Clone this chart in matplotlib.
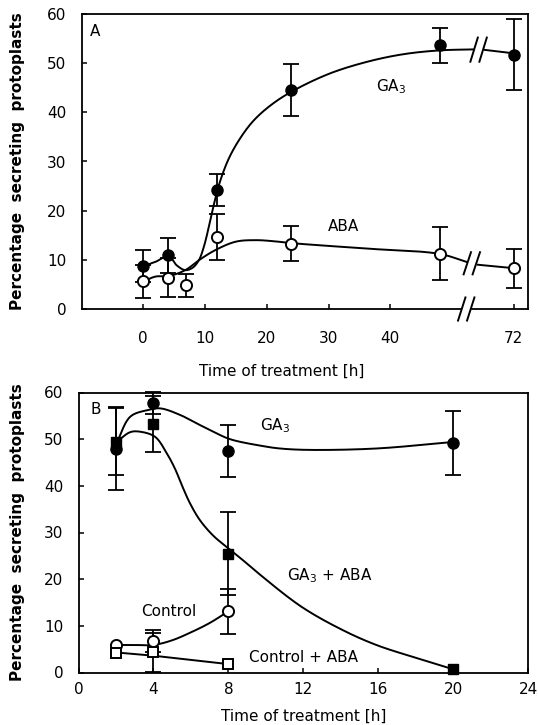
import numpy as np
import matplotlib
matplotlib.use("Agg")
import matplotlib.pyplot as plt
from matplotlib.patches import Polygon

plt.rcParams['font.family'] = ['DejaVu Sans']
plt.rcParams['mathtext.default'] = 'regular'

FS = 11

# ---------------- Panel A data ----------------
a_ga3_t = [0, 4, 12, 24, 48, 72]
a_ga3_y = [8.7, 10.9, 24.2, 44.5, 53.6, 51.7]
a_ga3_e = [3.2, 3.5, 3.3, 5.3, 3.5, 7.2]

a_aba_t = [0, 4, 7, 12, 24, 48, 72]
a_aba_y = [5.6, 6.4, 4.8, 14.7, 13.3, 11.2, 8.3]
a_aba_e = [3.4, 4.0, 2.4, 4.7, 3.6, 5.4, 4.0]

# fitted curves (knots); 72 h drawn at position 60
a_ga3_curve_x1 = [0, 2, 4.1, 5.4, 6.8, 8.0, 9.0, 9.8, 10.6, 11.5, 12.5, 14, 16, 18, 20.7, 24, 30, 36, 42, 48, 53.5]
a_ga3_curve_y1 = [8.7, 9.6, 10.8, 8.9, 7.9, 8.4, 9.9, 12.6, 16.6, 21.6, 26.2, 31.0, 35.3, 38.5, 41.5, 44.2, 47.8, 50.2, 51.8, 52.6, 52.8]
a_ga3_curve_x2 = [55.3, 60]
a_ga3_curve_y2 = [52.7, 52.0]

a_aba_curve_x1 = [0, 2, 4.1, 6.8, 9.1, 11.7, 15, 18.2, 21, 24, 36, 48, 52.3]
a_aba_curve_y1 = [5.6, 6.6, 6.7, 7.9, 10.0, 12.0, 13.7, 14.0, 13.8, 13.4, 12.3, 11.2, 9.6]
a_aba_curve_x2 = [54.2, 60]
a_aba_curve_y2 = [9.0, 8.3]

a_xticks = [0, 10, 20, 30, 40, 60]
a_xticklabels = ['0', '10', '20', '30', '40', '72']

# ---------------- Panel B data ----------------
b_ga3_t = [2, 4, 8, 20]
b_ga3_y = [48.0, 57.8, 47.4, 49.2]
b_ga3_e = [8.8, 2.3, 5.6, 6.9]

b_ga3aba_t = [2, 4, 8, 20]
b_ga3aba_y = [49.5, 53.2, 25.5, 0.7]
b_ga3aba_e = [7.2, 6.0, 8.8, 0.0]

b_ctrl_t = [2, 4, 8]
b_ctrl_y = [5.8, 6.8, 13.1]
b_ctrl_e = [0.0, 2.4, 4.8]

b_ctrlaba_t = [2, 4, 8]
b_ctrlaba_y = [4.2, 4.3, 1.8]
b_ctrlaba_e = [0.0, 4.2, 0.0]

b_ga3_curve_x = [2, 2.76, 3.65, 4.36, 5.42, 6.3, 7.2, 8.09, 9.87, 10.76, 12.3, 15.9, 20]
b_ga3_curve_y = [48.8, 54.8, 56.2, 56.6, 55.2, 53.4, 51.6, 50.0, 48.5, 48.0, 47.7, 48.0, 49.4]
b_ga3aba_curve_x = [2, 2.76, 3.29, 4.09, 4.71, 5.16, 5.51, 5.96, 6.49, 7.2, 8.0, 8.8, 9.5, 11.9, 14.1, 15.9, 17.8, 20]
b_ga3aba_curve_y = [49.3, 51.5, 51.6, 50.5, 47.0, 43.6, 40.2, 36.2, 32.6, 29.3, 26.6, 24.0, 21.6, 14.1, 9.1, 5.9, 3.4, 0.7]
b_ctrl_curve_x = [2, 3, 4, 5, 6, 7, 8]
b_ctrl_curve_y = [5.9, 5.9, 5.9, 6.9, 8.6, 10.6, 13.1]
b_ctrlaba_line_x = [2, 4, 8]
b_ctrlaba_line_y = [4.3, 3.6, 1.8]


def catmull(xs, ys, sx=1.0, sy=1.0, n=30, alpha=0.5):
    """Centripetal Catmull-Rom through the knots (distances measured in pixels)."""
    p = np.column_stack([np.asarray(xs, float) * sx, np.asarray(ys, float) * sy])
    if len(p) < 3:
        return p[:, 0] / sx, p[:, 1] / sy
    p = np.vstack([2 * p[0] - p[1], p, 2 * p[-1] - p[-2]])
    out = []
    for i in range(1, len(p) - 2):
        P0, P1, P2, P3 = p[i - 1], p[i], p[i + 1], p[i + 2]
        t0 = 0.0
        t1 = t0 + np.linalg.norm(P1 - P0) ** alpha
        t2 = t1 + np.linalg.norm(P2 - P1) ** alpha
        t3 = t2 + np.linalg.norm(P3 - P2) ** alpha
        t = np.linspace(t1, t2, n, endpoint=False)[:, None]
        A1 = (t1 - t) / (t1 - t0) * P0 + (t - t0) / (t1 - t0) * P1
        A2 = (t2 - t) / (t2 - t1) * P1 + (t - t1) / (t2 - t1) * P2
        A3 = (t3 - t) / (t3 - t2) * P2 + (t - t2) / (t3 - t2) * P3
        B1 = (t2 - t) / (t2 - t0) * A1 + (t - t0) / (t2 - t0) * A2
        B2 = (t3 - t) / (t3 - t1) * A2 + (t - t1) / (t3 - t1) * A3
        C = (t2 - t) / (t2 - t1) * B1 + (t - t1) / (t2 - t1) * B2
        out.append(C)
    out.append(p[-2][None, :])
    out = np.vstack(out)
    return out[:, 0] / sx, out[:, 1] / sy


def pos_a(t):
    return [v if v <= 48 else 60 for v in t]


fig = plt.figure(figsize=(5.38, 7.25), dpi=100)
axA = fig.add_axes([81.5 / 538, 1 - 309 / 725, (528 - 81.5) / 538, 295 / 725])
axB = fig.add_axes([78.5 / 538, 1 - 672.5 / 725, (528 - 78.5) / 538, 280 / 725])

LW_CURVE = 1.4
MS = 8.0


def px_per_unit(ax):
    bb = ax.get_position()
    W = bb.width * fig.get_figwidth() * fig.dpi
    H = bb.height * fig.get_figheight() * fig.dpi
    x0, x1 = ax.get_xlim()
    y0, y1 = ax.get_ylim()
    return W / (x1 - x0), H / (y1 - y0)


def break_mark(ax, xc, yc, h_px=25, w_px=8, gap_px=9, cut=False):
    sx, sy = px_per_unit(ax)
    dx = (w_px / 2) / sx
    dy = (h_px / 2) / sy
    g = (gap_px / 2) / sx
    if cut:
        poly = Polygon([[xc - g - dx * 0.6, yc - dy * 0.3], [xc + g - dx * 0.6, yc - dy * 0.3],
                        [xc + g + dx * 0.6, yc + dy * 0.3], [xc - g + dx * 0.6, yc + dy * 0.3]],
                       closed=True, fc='white', ec='none', clip_on=False, zorder=3)
        ax.add_patch(poly)
    for off in (-g, g):
        ax.plot([xc + off - dx, xc + off + dx], [yc - dy, yc + dy], color='black', lw=1.4,
                clip_on=False, zorder=4, solid_capstyle='butt')


def style(ax):
    for s in ax.spines.values():
        s.set_linewidth(1.3)
    ax.tick_params(direction='in', length=3.5, width=1.1, labelsize=FS)
    ax.set_ylim(0, 60)
    ax.set_yticks(range(0, 61, 10))
    ax.tick_params(axis='y', pad=11)


def smooth_plot(ax, xs, ys):
    sx, sy = px_per_unit(ax)
    cx, cy = catmull(xs, ys, sx, sy)
    ax.plot(cx, cy, color='black', lw=LW_CURVE, zorder=2)


# ---------------- Panel A ----------------
style(axA)
axA.set_xlim(-10, 62.3)
axA.set_xticks(a_xticks)
axA.set_xticklabels(a_xticklabels)
axA.tick_params(axis='x', pad=16)

smooth_plot(axA, a_ga3_curve_x1, a_ga3_curve_y1)
axA.plot(a_ga3_curve_x2, a_ga3_curve_y2, color='black', lw=LW_CURVE, zorder=2)
smooth_plot(axA, a_aba_curve_x1, a_aba_curve_y1)
axA.plot(a_aba_curve_x2, a_aba_curve_y2, color='black', lw=LW_CURVE, zorder=2)

axA.errorbar(pos_a(a_ga3_t), a_ga3_y, yerr=a_ga3_e, fmt='none', ecolor='black',
             elinewidth=1.3, capsize=6, capthick=1.3, zorder=3)
axA.errorbar(pos_a(a_aba_t), a_aba_y, yerr=a_aba_e, fmt='none', ecolor='black',
             elinewidth=1.3, capsize=6, capthick=1.3, zorder=3)
axA.plot(pos_a(a_ga3_t), a_ga3_y, 'o', ms=MS, mfc='black', mec='black', zorder=5)
axA.plot(pos_a(a_aba_t), a_aba_y, 'o', ms=MS, mfc='white', mec='black', mew=1.4, zorder=5)

axA.text(40.1, 45.2, 'GA$_3$', ha='center', va='center', fontsize=FS)
axA.text(32.4, 16.7, 'ABA', ha='center', va='center', fontsize=FS)
axA.text(0.018, 0.94, 'A', transform=axA.transAxes, ha='left', va='center', fontsize=FS)

break_mark(axA, 54.3, 52.75, h_px=26)
break_mark(axA, 53.2, 9.3, h_px=24)
break_mark(axA, 52.3, 0, h_px=25, cut=True)

axA.set_ylabel('Percentage  secreting  protoplasts', fontsize=11, fontweight='bold')
axA.yaxis.set_label_coords(-0.143, 0.5)
axA.yaxis.label.set_va('center')
axA.set_xlabel('Time of treatment [h]', fontsize=FS)
axA.xaxis.set_label_coords(0.449, -0.2125)
axA.xaxis.label.set_va('center')

# ---------------- Panel B ----------------
style(axB)
axB.set_xlim(0, 24)
axB.set_xticks(range(0, 25, 4))
axB.tick_params(axis='x', pad=7)

smooth_plot(axB, b_ga3_curve_x, b_ga3_curve_y)
smooth_plot(axB, b_ga3aba_curve_x, b_ga3aba_curve_y)
smooth_plot(axB, b_ctrl_curve_x, b_ctrl_curve_y)
axB.plot(b_ctrlaba_line_x, b_ctrlaba_line_y, color='black', lw=LW_CURVE, zorder=2)

for t, y, e in [(b_ga3_t, b_ga3_y, b_ga3_e), (b_ga3aba_t, b_ga3aba_y, b_ga3aba_e),
                (b_ctrl_t, b_ctrl_y, b_ctrl_e), (b_ctrlaba_t, b_ctrlaba_y, b_ctrlaba_e)]:
    tt = [a for a, b in zip(t, e) if b > 0]
    yy = [a for a, b in zip(y, e) if b > 0]
    ee = [b for b in e if b > 0]
    axB.errorbar(tt, yy, yerr=ee, fmt='none', ecolor='black', elinewidth=1.3,
                 capsize=6, capthick=1.3, zorder=3, clip_on=False)

axB.plot(b_ga3_t, b_ga3_y, 'o', ms=MS, mfc='black', mec='black', zorder=5, clip_on=False)
axB.plot(b_ga3aba_t, b_ga3aba_y, 's', ms=MS - 0.5, mfc='black', mec='black', zorder=5, clip_on=False)
axB.plot(b_ctrl_t, b_ctrl_y, 'o', ms=MS, mfc='white', mec='black', mew=1.4, zorder=5)
axB.plot(b_ctrlaba_t, b_ctrlaba_y, 's', ms=MS - 0.5, mfc='white', mec='black', mew=1.4, zorder=5)

axB.text(10.5, 52.8, 'GA$_3$', ha='center', va='center', fontsize=FS)
axB.text(13.4, 20.7, 'GA$_3$ + ABA', ha='center', va='center', fontsize=FS)
axB.text(4.8, 13.1, 'Control', ha='center', va='center', fontsize=FS)
axB.text(12.0, 3.3, 'Control + ABA', ha='center', va='center', fontsize=FS)
axB.text(0.027, 0.941, 'B', transform=axB.transAxes, ha='left', va='center', fontsize=FS)

axB.set_ylabel('Percentage  secreting  protoplasts', fontsize=11, fontweight='bold')
axB.yaxis.set_label_coords(-0.135, 0.5)
axB.yaxis.label.set_va('center')
axB.set_xlabel('Time of treatment [h]', fontsize=FS)
axB.xaxis.set_label_coords(0.502, -0.158)
axB.xaxis.label.set_va('center')

fig.savefig('out.png', dpi=100)
